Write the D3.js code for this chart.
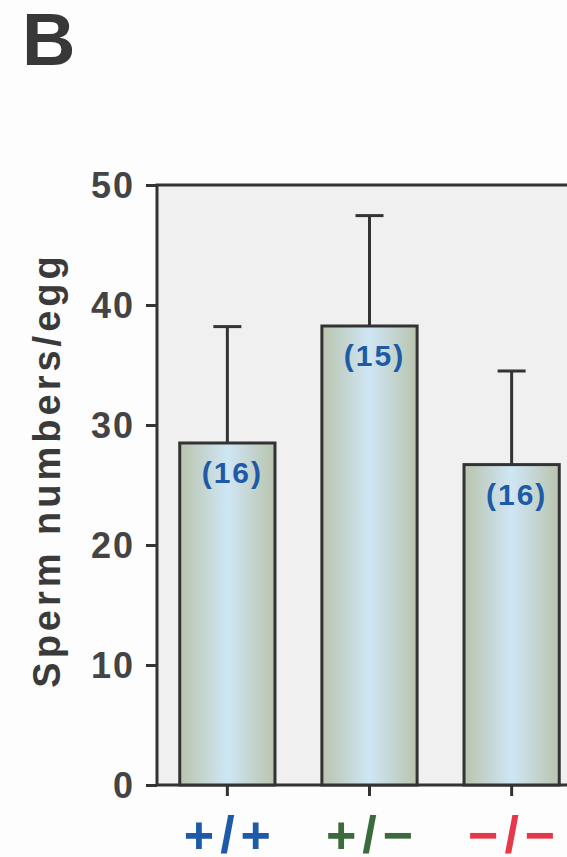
<html>
<head>
    <style>
        body { margin:0; background:#fdfdfd; }
        text { font-family: "Liberation Sans", Arial, sans-serif; font-weight:bold; }
    </style>
    <script src="https://d3js.org/d3.v7.min.js"></script>
</head>
<body>
    <script>
        // data
        var genotypes = ["+/+", "+/\u2212", "\u2212/\u2212"];
        var spermMeans = [28.5, 38.25, 26.7];
        var spermSD = [9.7, 9.2, 7.8];
        var sampleN = ["(16)", "(15)", "(16)"];
        var yTicks = [0, 10, 20, 30, 40, 50];
        var labelColors = ["#1f5aa6", "#3b6a3c", "#e5384a"];

        var svg_width = 567;
        var svg_height = 857;

        // plot box (right side runs off the page like the scan)
        var pLeft = 157, pTop = 185, pBottom = 785, pRight = 640;

        var svg = d3.select("body").append("svg")
            .attr("width", svg_width)
            .attr("height", svg_height);

        //panel letter
        svg.append("text")
            .attr("x", 22)
            .attr("y", 65)
            .attr("fill", "#383838")
            .style("font-size", "74px")
            .text("B");

        var y = d3.scaleLinear().domain([0, 50]).range([pBottom, pTop]);

        var x = d3.scaleBand()
            .domain(genotypes)
            .range([pLeft, 582])
            .paddingInner(0.33)
            .paddingOuter(0.16);

        //bar gradient
        var grad = svg.append("defs").append("linearGradient")
            .attr("id", "barfill")
            .attr("x1", "0%").attr("x2", "100%")
            .attr("y1", "0%").attr("y2", "0%");
        grad.append("stop").attr("offset", "0%").attr("stop-color", "#b9c4ad");
        grad.append("stop").attr("offset", "50%").attr("stop-color", "#cfe6f5");
        grad.append("stop").attr("offset", "100%").attr("stop-color", "#b9c4ad");

        //plot background + frame
        svg.append("rect")
            .attr("x", pLeft).attr("y", pTop)
            .attr("width", pRight - pLeft).attr("height", pBottom - pTop)
            .attr("fill", "#f0f0f1")
            .attr("stroke", "#333")
            .attr("stroke-width", 3);

        var rows = genotypes.map((g, i) => ({g: g, mean: spermMeans[i], sd: spermSD[i], n: sampleN[i]}));

        //error bars
        var err = svg.append("g")
            .attr("stroke", "#333")
            .attr("stroke-width", 3)
            .attr("fill", "none");
        err.selectAll("line.v")
            .data(rows)
            .join("line")
            .attr("class", "v")
            .attr("x1", d => x(d.g) + x.bandwidth() / 2)
            .attr("x2", d => x(d.g) + x.bandwidth() / 2)
            .attr("y1", d => y(d.mean))
            .attr("y2", d => y(d.mean + d.sd));
        err.selectAll("line.cap")
            .data(rows)
            .join("line")
            .attr("class", "cap")
            .attr("x1", d => x(d.g) + x.bandwidth() / 2 - 14)
            .attr("x2", d => x(d.g) + x.bandwidth() / 2 + 14)
            .attr("y1", d => y(d.mean + d.sd))
            .attr("y2", d => y(d.mean + d.sd));

        //bars
        svg.append("g")
            .selectAll("rect")
            .data(rows)
            .join("rect")
            .attr("x", d => x(d.g))
            .attr("y", d => y(d.mean))
            .attr("width", x.bandwidth())
            .attr("height", d => y(0) - y(d.mean))
            .attr("fill", "url(#barfill)")
            .attr("stroke", "#333")
            .attr("stroke-width", 3);

        //n labels inside bars
        svg.append("g")
            .selectAll("text")
            .data(rows)
            .join("text")
            .attr("x", d => x(d.g) + x.bandwidth() / 2 + 5)
            .attr("y", d => y(d.mean) + 40)
            .attr("text-anchor", "middle")
            .attr("fill", "#1f5aa6")
            .style("font-size", "30px")
            .style("letter-spacing", "2px")
            .text(d => d.n);

        //y axis
        var yAxis = svg.append("g")
            .attr("transform", `translate(${pLeft},0)`)
            .call(d3.axisLeft(y).tickValues(yTicks).tickSize(11).tickPadding(11));
        yAxis.select(".domain").remove();
        yAxis.selectAll(".tick line").attr("stroke", "#333").attr("stroke-width", 3);
        yAxis.selectAll(".tick text")
            .attr("fill", "#444")
            .attr("dy", "0.36em")
            .style("font-size", "36px")
            .style("letter-spacing", "2px")
            .style("font-family", "'Liberation Sans', Arial, sans-serif");

        //x axis
        var xAxis = svg.append("g")
            .attr("transform", `translate(0,${pBottom})`)
            .call(d3.axisBottom(x).tickSize(11).tickPadding(20));
        xAxis.select(".domain").remove();
        xAxis.selectAll(".tick line").attr("stroke", "#333").attr("stroke-width", 3);
        xAxis.selectAll(".tick text")
            .attr("fill", (d, i) => labelColors[i])
            .attr("x", 3)
            .style("font-size", "52px")
            .style("letter-spacing", "6px")
            .style("font-family", "'Liberation Sans', Arial, sans-serif");

        //y title
        svg.append("text")
            .attr("transform", "translate(60,470) rotate(-90)")
            .attr("text-anchor", "middle")
            .attr("fill", "#3a3a3a")
            .style("font-size", "38px")
            .style("letter-spacing", "4px")
            .text("Sperm numbers/egg");
    </script>
</body>
</html>
